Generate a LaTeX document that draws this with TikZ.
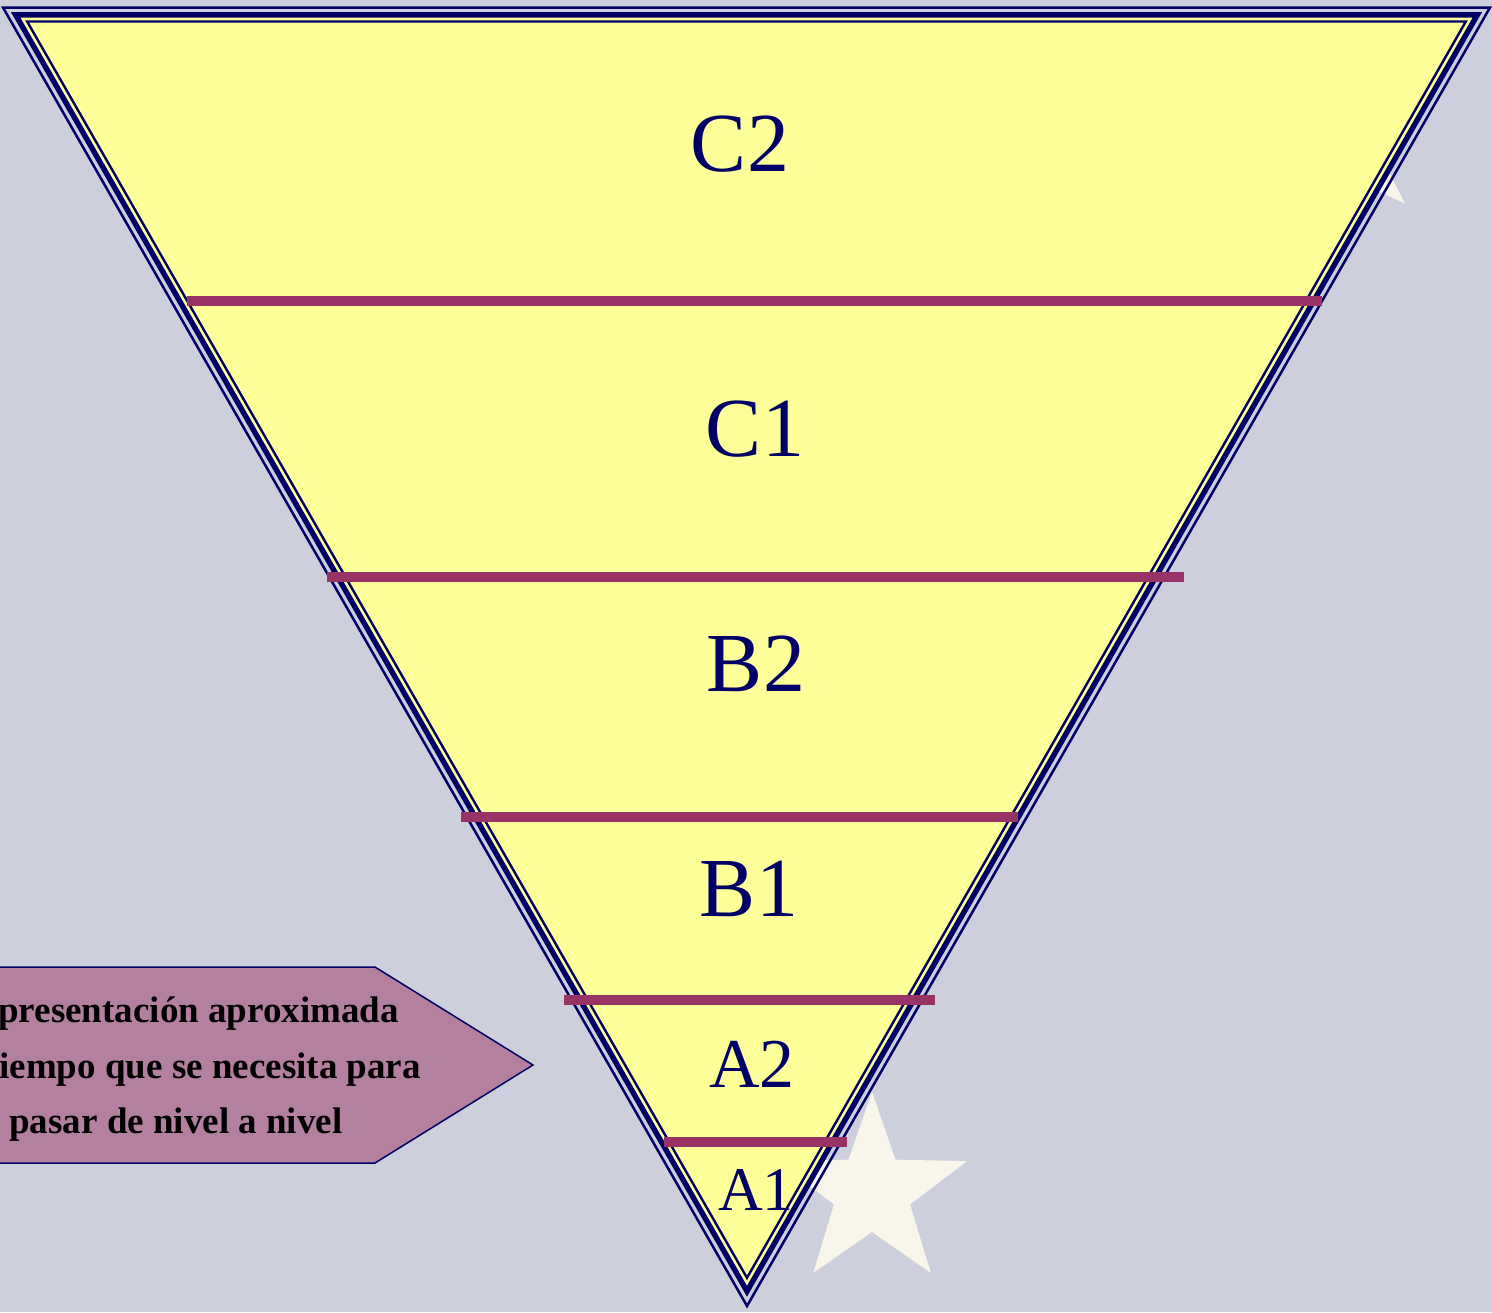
\documentclass[tikz,border=0pt]{standalone}
\usepackage{fontspec}
\setmainfont{Liberation Serif}
\usetikzlibrary{positioning, calc}
\usetikzlibrary{shapes.geometric}
\definecolor{fondo}{RGB}{205,207,220}
\definecolor{amarillo}{RGB}{255,255,153}
\definecolor{azul}{RGB}{0,0,102}
\definecolor{granate}{RGB}{153,51,102}
\definecolor{malva}{RGB}{180,128,159}
\definecolor{estrella}{RGB}{248,246,234}

\begin{document}
\begin{tikzpicture}[x=0.5pt, y=-0.5pt,
    nivel/.style={text=azul, font=\fontsize{42}{42}\selectfont},
    nivelA/.style={text=azul, font=\fontsize{35}{35}\selectfont},
    raya/.style={draw=granate, line width=5pt},
    nota/.style={anchor=base west, inner sep=0pt, font=\bfseries\fontsize{18.5}{18.5}\selectfont},
    estrellita/.style={star, star points=5, star point ratio=2.5, fill=estrella, inner sep=0pt}]
    % fondo de la diapositiva
    \useasboundingbox (0,0) rectangle (1492,1312);
    \fill[fondo] (0,0) rectangle (1492,1312);

    % estrellas del fondo (detras del triangulo)
    \node[estrellita, minimum size=100pt] (estrella1) at (872,1192) {};
    \node[estrellita, minimum size=100pt, rotate=10] (estrella2) at (1333,134) {};

    % esquinas del triangulo invertido
    \coordinate (izq) at (3,7.5);
    \coordinate (der) at (1490,7.5);
    \coordinate (pico) at (747,1306);
    \coordinate (centro) at (746.5,439);

    % linea fina exterior
    \draw[azul, line width=1.25pt] (izq) -- (der) -- (pico) -- cycle;
    % linea gruesa con el relleno amarillo
    \draw[azul, fill=amarillo, line width=2.7pt]
        ($(centro)!0.983!(izq)$) -- ($(centro)!0.983!(der)$) -- ($(centro)!0.983!(pico)$) -- cycle;
    % linea fina interior
    \draw[azul, line width=1.2pt]
        ($(centro)!0.9675!(izq)$) -- ($(centro)!0.9675!(der)$) -- ($(centro)!0.9675!(pico)$) -- cycle;

    % rayas entre niveles
    \draw[raya] (187,301) -- (1322,301);
    \draw[raya] (327,577) -- (1184,577);
    \draw[raya] (461,817) -- (1018,817);
    \draw[raya] (564,1000) -- (935,1000);
    \draw[raya] (664,1142) -- (847,1142);

    % niveles
    \node[nivel] (c2) at (740,144) {C2};
    \node[nivel] (c1) at (755,429) {C1};
    \node[nivel] (b2) at (756,664) {B2};
    \node[nivel] (b1) at (749,889) {B1};
    \node[nivelA] (a2) at (752,1064) {A2};
    \node[nivelA, font=\fontsize{31}{31}\selectfont] (a1) at (756,1190) {A1};

    % flecha con la nota
    \draw[azul, fill=malva, line width=0.75pt] (-5,967) -- (375,967) -- (533,1065) -- (375,1163) -- (-5,1163) -- cycle;
    \node[nota] (nota1) at (-2,1022) {presentación aproximada};
    \node[nota] (nota2) at (-1,1078) {iempo que se necesita para};
    \node[nota] (nota3) at (9,1133) {pasar de nivel a nivel};
\end{tikzpicture}
\end{document}
